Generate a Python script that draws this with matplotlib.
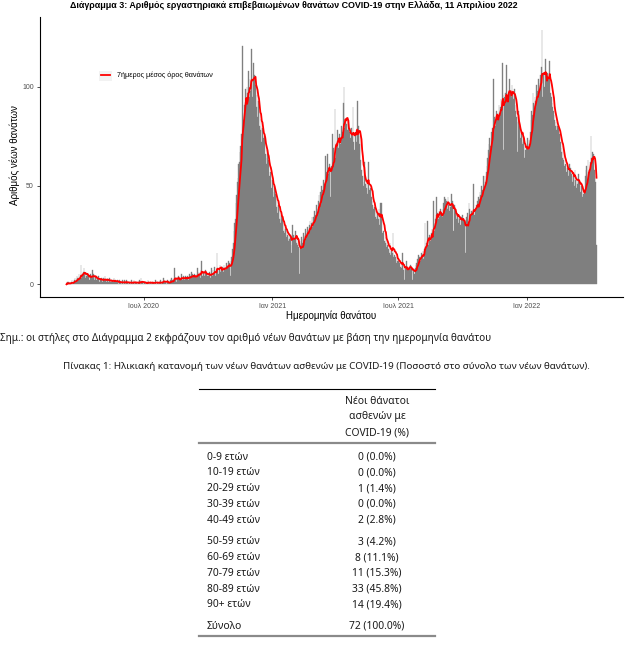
import numpy as np
import pandas as pd
import matplotlib
matplotlib.use("Agg")
import matplotlib.pyplot as plt
from matplotlib.patches import Rectangle
from matplotlib.lines import Line2D

W, H = 642, 672

# daily lab-confirmed deaths by date of death, from 12 Mar 2020
deaths_2020 = [
    0, 1, 0, 1, 0, 1, 0, 1, 2, 0, 1, 2, 3, 1, 2, 4, 3, 2, 5, 3,  # Mar
    4, 10, 3, 5, 6, 8, 5, 3, 6, 4, 5, 3, 4, 2, 5, 3, 4, 7, 3, 5, 2, 3, 4, 2, 3, 2, 4, 1, 3, 2,  # Apr
    3, 2, 1, 3, 2, 4, 2, 1, 3, 2, 1, 2, 3, 1, 2, 1, 2, 1, 3, 1, 2, 1, 1, 2, 1, 0, 2, 1, 1, 0, 2,  # May
    1, 0, 2, 1, 0, 2, 1, 1, 0, 1, 1, 0, 2, 1, 0, 1, 2, 0, 1, 1, 1, 0, 1, 1, 2, 0, 3, 1, 1, 0,  # Jun
    1, 1, 0, 1, 1, 0, 2, 1, 0, 1, 1, 0, 1, 1, 1, 0, 1, 2, 0, 1, 1, 0, 1, 1, 2, 0, 1, 1, 3, 2, 1,  # Jul
    1, 0, 1, 2, 1, 0, 1, 2, 1, 3, 2, 1, 2, 8, 3, 2, 1, 3, 2, 4, 3, 2, 3, 5, 2, 3, 4, 2, 3, 4, 3,  # Aug
    3, 4, 2, 5, 3, 4, 6, 3, 5, 4, 2, 5, 4, 3, 5, 8, 4, 6, 5, 3, 7, 12, 4, 6, 5, 4, 7, 5, 6, 4,  # Sep
    5, 4, 6, 3, 5, 8, 4, 7, 5, 9, 6, 4, 7, 16, 8, 5, 7, 10, 6, 8, 7, 9, 6, 10, 8, 7, 11, 9, 8, 12, 10,  # Oct
    11, 4, 12, 14, 18, 21, 27, 31, 33, 41, 45, 52, 54, 61, 62, 67, 70, 76, 121, 84,
    83, 91, 90, 99, 93, 100, 97, 108, 95, 104,  # Nov
    98, 119, 104, 95, 112, 99, 106, 101, 90, 96, 85, 93, 88, 80, 78, 84, 72, 79, 74, 70,
    75, 66, 64, 61, 68, 58, 63, 55, 52, 57, 49,  # Dec
]
deaths_2021 = [
    53, 47, 44, 50, 41, 46, 39, 43, 36, 40, 33, 38, 31, 35, 29, 33, 27, 30, 26, 28,
    24, 27, 25, 22, 26, 23, 25, 20, 16, 30, 22,  # Jan
    25, 23, 27, 24, 21, 20, 23, 19, 5, 22, 18, 24, 21, 23, 26, 22, 25, 28, 24, 27,
    29, 26, 30, 32, 28, 31, 34, 29,  # Feb
    34, 31, 37, 35, 40, 38, 36, 42, 45, 40, 47, 44, 50, 48, 46, 53, 51, 65, 50, 57,
    66, 59, 56, 61, 58, 44, 60, 76, 63, 69, 65,  # Mar
    89, 64, 70, 72, 78, 69, 76, 74, 71, 80, 73, 77, 92, 100, 79, 84, 76, 81, 78, 83,
    72, 77, 74, 70, 79, 75, 90, 72, 68, 76,  # Apr
    78, 72, 93, 74, 80, 71, 75, 63, 58, 55, 52, 50, 62, 47, 51, 49, 53, 46, 62, 48,
    45, 49, 44, 42, 40, 38, 36, 39, 34, 37, 33,  # May
    36, 33, 38, 30, 41, 28, 41, 26, 24, 27, 22, 21, 24, 19, 20, 17, 18, 16, 21, 15,
    17, 16, 26, 14, 15, 13, 14, 11, 13, 12,  # Jun
    12, 10, 11, 9, 8, 10, 16, 7, 8, 2, 9, 7, 12, 8, 7, 9, 8, 10, 7, 9,
    2, 8, 7, 5, 8, 10, 11, 13, 12, 15, 14,  # Jul
    14, 12, 16, 15, 17, 13, 18, 31, 19, 21, 18, 32, 20, 23, 25, 22, 26, 28, 24, 42,
    31, 27, 33, 35, 44, 36, 33, 37, 34, 38, 32,  # Aug
    36, 34, 38, 41, 44, 43, 39, 42, 38, 44, 40, 37, 41, 39, 46, 38, 42, 27, 40, 35,
    37, 33, 36, 34, 31, 35, 33, 30, 34, 32,  # Sep
    35, 33, 29, 32, 16, 31, 34, 36, 30, 41, 38, 35, 32, 37, 36, 34, 51, 35, 38, 37,
    40, 42, 39, 44, 43, 47, 45, 50, 44, 48, 55,  # Oct
    49, 55, 52, 57, 60, 64, 68, 71, 74, 70, 77, 75, 79, 104, 78, 85, 80, 84, 88, 83,
    86, 91, 87, 90, 94, 88, 112, 96, 68, 95,  # Nov
    93, 97, 111, 94, 90, 96, 104, 92, 98, 95, 101, 97, 94, 99, 91, 88, 85, 82, 67, 88,
    77, 80, 74, 76, 72, 71, 75, 70, 64, 68, 66,  # Dec
]
deaths_2022 = [
    70, 74, 68, 73, 71, 77, 83, 88, 86, 97, 92, 89, 95, 93, 101, 98, 96, 104, 99, 102,
    106, 110, 129, 95, 107, 100, 98, 114, 103, 105, 107,  # Jan
    104, 100, 113, 97, 95, 92, 90, 88, 86, 83, 80, 82, 78, 80, 77, 79, 76, 72, 69, 67,
    64, 70, 63, 60, 58, 61, 57, 59,  # Feb
    58, 55, 61, 54, 59, 56, 57, 52, 55, 50, 58, 53, 49, 54, 51, 56, 48, 52, 47, 50,
    49, 44, 46, 41, 48, 55, 58, 60, 52, 63, 57,  # Mar
    58, 62, 75, 64, 67, 60, 66, 58, 55, 52, 20,  # Apr
]
first_day = "2020-03-12"

xtick_dates = ["2020-07-01", "2021-01-01", "2021-07-01", "2022-01-01"]
xtick_labels = ["Ιουλ 2020", "Ιαν 2021", "Ιουλ 2021", "Ιαν 2022"]
ytick_values = [0, 50, 100]

age_groups = ["0-9 ετών", "10-19 ετών", "20-29 ετών", "30-39 ετών", "40-49 ετών",
              "50-59 ετών", "60-69 ετών", "70-79 ετών", "80-89 ετών", "90+ ετών"]
age_deaths = [0, 0, 1, 0, 2, 3, 8, 11, 33, 14]
header_lines = ["Νέοι θάνατοι", "ασθενών με", "COVID-19 (%)"]

title = ("Διάγραμμα 3: Αριθμός εργαστηριακά επιβεβαιωμένων θανάτων COVID-19 "
         "στην Ελλάδα, 11 Απριλίου 2022")
note = ("Σημ.: οι στήλες στο Διάγραμμα 2 εκφράζουν τον αριθμό νέων θανάτων "
        "με βάση την ημερομηνία θανάτου")
caption = ("Πίνακας 1: Ηλικιακή κατανομή των νέων θανάτων ασθενών με COVID-19 "
           "(Ποσοστό στο σύνολο των νέων θανάτων).")

plt.rcParams['font.family'] = ['Liberation Sans', 'DejaVu Sans']
table_font = ['Noto Sans', 'DejaVu Sans']
ink = "#1a1a1a"

deaths = deaths_2020 + deaths_2021 + deaths_2022
dates = pd.date_range(first_day, periods=len(deaths), freq="D")
avg7 = pd.Series(deaths, index=dates).rolling(7, min_periods=1).mean()

fig = plt.figure(figsize=(W / 100, H / 100), dpi=100)
fig.patch.set_facecolor("white")

def fx(px):
    return px / W

def fy(py):
    return 1 - py / H

ax = fig.add_axes([fx(40), fy(297), fx(623) - fx(40), fy(17) - fy(297)])
ax.patch.set_visible(False)

# bars are narrower than a pixel, so let them touch to get a solid mass
ax.bar(dates, deaths, width=1.0, color="#7f7f7f", edgecolor="#7f7f7f",
       linewidth=0.25, zorder=2)
ax.plot(dates, avg7.values, color="#ff0000", linewidth=1.3, zorder=3,
        label="7ήμερος μέσος όρος θανάτων")

span = dates[-1] - dates[0]
ax.set_xlim(dates[0] - 0.05 * span, dates[-1] + 0.05 * span)
top = max(deaths)
ax.set_ylim(-0.05 * top, 1.05 * top)

ax.set_xticks(pd.to_datetime(xtick_dates))
ax.set_xticklabels(xtick_labels)
ax.set_yticks(ytick_values)
ax.tick_params(axis="both", length=2.5, width=0.6, color="#333333",
               labelcolor="#4d4d4d", labelsize=5)
ax.tick_params(axis="x", pad=1.5)
ax.tick_params(axis="y", pad=2)
for s in ["top", "right"]:
    ax.spines[s].set_visible(False)
for s in ["left", "bottom"]:
    ax.spines[s].set_linewidth(0.8)
    ax.spines[s].set_color("black")

# legend key background like ggplot
ax.add_patch(Rectangle(((99 - 40) / 583, (297 - 81) / 280), 13 / 583, 10 / 280,
                       transform=ax.transAxes, facecolor="#f2f2f2",
                       edgecolor="none", zorder=1))
ax.legend(loc="center left", bbox_to_anchor=((101 - 40) / 583, (297 - 75.5) / 280),
          frameon=False, fontsize=5.2, handlelength=1.25, handletextpad=1.0,
          borderpad=0, borderaxespad=0)

fig.text(fx(331), fy(316), "Ημερομηνία θανάτου", ha="center", va="center",
         fontsize=7, color="black")
fig.text(fx(15), fy(155), "Αριθμός νέων θανάτων", ha="center", va="center",
         rotation=90, fontsize=7, color="black")

t_title = fig.text(fx(70), fy(6), title, ha="left", va="center",
                   fontsize=6.3, fontweight="bold")
t_note = fig.text(fx(0), fy(339), note, ha="left", va="center",
                  fontsize=7, family=table_font, color=ink)
t_cap = fig.text(fx(63), fy(367), caption, ha="left", va="center",
                 fontsize=7.5, family=table_font, color=ink)

# fit widths of long lines to the reference
fig.canvas.draw()
rend = fig.canvas.get_renderer()
for t, w in [(t_title, 446), (t_note, 487), (t_cap, 531)]:
    bb = t.get_window_extent(renderer=rend)
    t.set_fontsize(t.get_fontsize() * w / bb.width)

# table
x0, x1 = 199, 435
fig.add_artist(Line2D([fx(x0), fx(x1)], [fy(389), fy(389)], color="black",
                      linewidth=0.8, transform=fig.transFigure))
for i, line in enumerate(header_lines):
    fig.text(fx(377), fy(401 + 16 * i), line, ha="center", va="center",
             fontsize=7.4, family=table_font, color=ink)
fig.add_artist(Line2D([fx(x0), fx(x1)], [fy(443), fy(443)], color="#8a8a8a",
                      linewidth=1.6, transform=fig.transFigure))

total = sum(age_deaths)
labels = age_groups + ["Σύνολο"]
values = age_deaths + [total]
y = 457
for i, (lab, v) in enumerate(zip(labels, values)):
    fig.text(fx(207), fy(y), lab, ha="left", va="center", fontsize=7.4,
             family=table_font, color=ink)
    fig.text(fx(377), fy(y), f"{v} ({100 * v / total:.1f}%)", ha="center",
             va="center", fontsize=7.4, family=table_font, color=ink)
    if i in (4, 9):
        y += 21.5
    else:
        y += 15.8
fig.add_artist(Line2D([fx(x0), fx(x1)], [fy(636), fy(636)], color="#8a8a8a",
                      linewidth=1.6, transform=fig.transFigure))

fig.savefig("out.png", dpi=100)
